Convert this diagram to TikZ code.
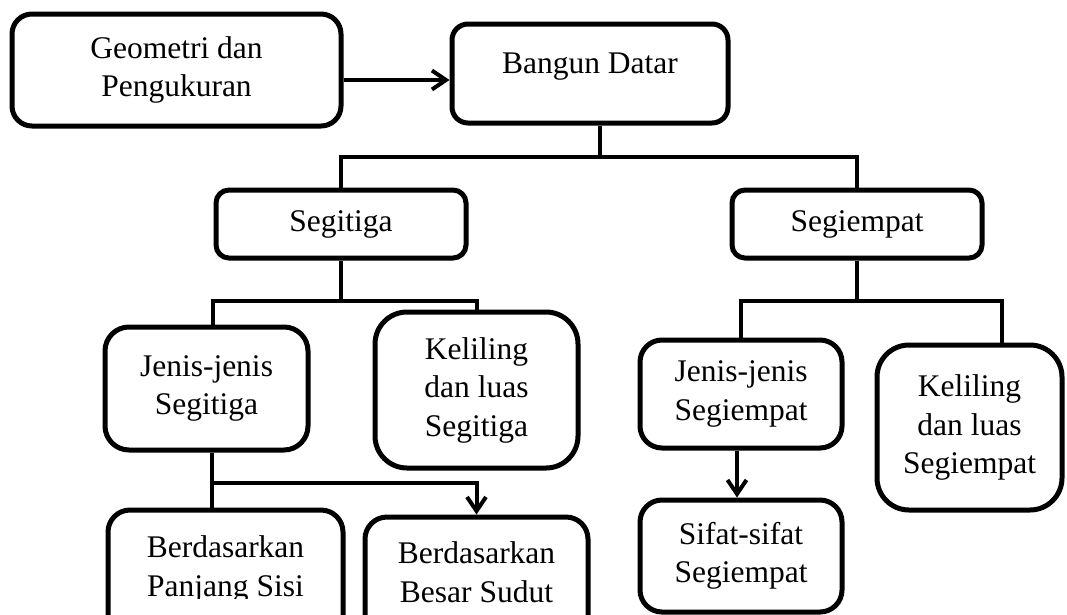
\documentclass[tikz,border=0pt]{standalone}
\usepackage{fontspec}
\setmainfont{Liberation Serif}
\usetikzlibrary{arrows.meta}
\begin{document}
\begin{tikzpicture}[x=1pt,y=-1pt,
  box/.style={draw, line width=5pt, rounded corners=#1, inner sep=0pt, align=center,
              font=\fontsize{31.5}{38.5}\selectfont},
  box/.default=20pt,
  txt/.style={inner sep=0pt, align=center, font=\fontsize{31.5}{38.5}\selectfont},
  conn/.style={line width=4pt, line join=miter},
  arr/.style={conn, -{Straight Barb[length=14pt,width=19pt]}}]
\useasboundingbox (0,0) rectangle (1067,614);
\clip (0,0) rectangle (1067,614);

% boxes
\node[box=20pt, minimum width=329pt, minimum height=112pt] (geo) at (176.5,70) {Geometri dan\\Pengukuran};
\node[box=16pt, minimum width=276pt, minimum height=99pt, text height=21.5pt, text depth=22.5pt] (bd) at (590,73.5) {Bangun Datar};
\node[box=13pt, minimum width=250pt, minimum height=68pt] (segitiga) at (341,224) {Segitiga};
\node[box=13pt, minimum width=250pt, minimum height=68pt] (segiempat) at (857,224) {Segiempat};
\node[box=24pt, minimum width=203pt, minimum height=123pt] (jenis3) at (206.5,388.5) {Jenis-jenis\\Segitiga};
\node[box=32pt, minimum width=203pt, minimum height=156pt] (kel3) at (476.5,390) {Keliling\\dan luas\\Segitiga};
\node[box=22pt, minimum width=235pt, minimum height=140pt] (panjang) at (225.5,580) {};
\node[box=22pt, minimum width=223pt, minimum height=140pt] (besar) at (476.5,587) {};
\node[box=22pt, minimum width=202pt, minimum height=108pt] (jenis4) at (741,394) {Jenis-jenis\\Segiempat};
\node[box=22pt, minimum width=202pt, minimum height=112pt] (sifat) at (741,556) {Sifat-sifat\\Segiempat};
\node[box=32pt, minimum width=185pt, minimum height=165pt] (kel4) at (969.5,427.5) {Keliling\\dan luas\\Segiempat};

% clipped texts of the two lowest boxes
\begin{scope}
\clip (panjang.north west) rectangle (343,598);
\node[txt, anchor=north] (panjangtxt) at (225.5,535.5) {Berdasarkan\\Panjang Sisi};
\end{scope}
\begin{scope}
\clip (besar.north west) rectangle (588,603);
\node[txt, anchor=north] (besartxt) at (476.5,541.5) {Berdasarkan\\Besar Sudut};
\end{scope}

% connectors
\coordinate (ar) at (0,80);
\draw[arr] (geo.east |- ar) -- (bd.west |- ar);

\coordinate (t1) at (600,157);
\draw[conn] (bd.south -| t1) -- (t1);
\draw[conn] (segitiga.north) |- (t1) -| (segiempat.north);

\coordinate (t2) at (213,301);
\draw[conn] (segitiga.south) -- (segitiga.south |- t2);
\draw[conn] (t2 |- jenis3.north) -- (t2) -| (kel3.north);

\coordinate (t3) at (212,483);
\draw[conn] (t3 |- jenis3.south) -- (t3 |- panjang.north);
\draw[arr] (t3) -| (besar.north);

\coordinate (t4) at (1002,301);
\draw[conn] (segiempat.south) -- (segiempat.south |- t4);
\draw[conn] (jenis4.north) |- (t4) -- (t4 |- kel4.north);

\coordinate (t5) at (737,0);
\draw[arr] (t5 |- jenis4.south) -- (t5 |- sifat.north);
\end{tikzpicture}
\end{document}
